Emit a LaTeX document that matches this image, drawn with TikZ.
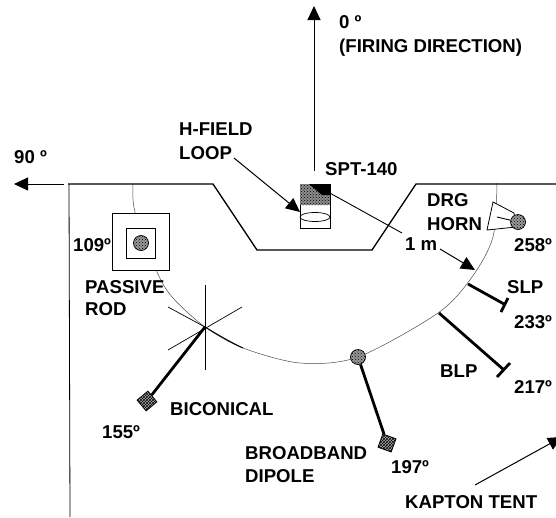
\documentclass[tikz,border=0pt]{standalone}
\usepackage{fontspec}
\setmainfont{Liberation Sans}
\usetikzlibrary{patterns,arrows.meta}
\tikzset{
 x=1pt,y=-1pt,
 lab/.style={inner sep=0pt,font=\fontsize{18.6}{21}\selectfont\bfseries,align=left,anchor=base west},
 wall/.style={line width=1.3pt,black},
 thick rod/.style={line width=2.8pt,black},
 thin/.style={line width=0.9pt,black},
 arr/.style={line width=1pt,-{Triangle[length=14pt,width=13pt]}},
 ball/.style={circle,draw,line width=0.7pt,preaction={fill=black!40},pattern=crosshatch dots,pattern color=black,minimum size=15pt,inner sep=0pt},
 sq/.style={rectangle,draw,line width=0.8pt,preaction={fill=black!30},pattern=crosshatch,pattern color=black,minimum size=14pt,inner sep=0pt},
}
\begin{document}
\begin{tikzpicture}
\useasboundingbox (0,0) rectangle (556,517);
\fill[white] (0,0) rectangle (556,517);
% arc
\draw[line width=0.5pt,black!70] plot[smooth] coordinates {(133,184) (135,212) (157,272) (173,298) (205,327) (243,348) (300,363) (358,357) (438,313) (472,277) (493,237) (497,183)};
\draw[line width=1pt] (205,327) .. controls (220,336) and (232,343) .. (243,348);
% walls
\draw[wall] (68,184) -- (213,184) -- (257,250) -- (372,250) -- (416,184) -- (556,184);
\draw[line width=0.8pt] (69,184) -- (70,517);
% direction arrows
\coordinate (top0) at (314,6);
\coordinate (base0) at (314,171);
\draw[arr] (base0) -- (top0);
\coordinate (left90) at (14,184);
\coordinate (base90) at (64,184);
\draw[arr] (base90) -- (left90);
% SPT
\node[draw,line width=0.8pt,minimum width=30pt,minimum height=44pt,inner sep=0pt] (spt) at (315,206) {};
\fill[black!45] (300,184) rectangle (330,205);
\fill[pattern=crosshatch dots,pattern color=black] (300,184) rectangle (330,205);
\fill[black] (309,184) -- (330,184) -- (330,195) -- (322,195) -- cycle;
\draw[line width=0.7pt] (315,217) ellipse [x radius=15,y radius=4.5];
% H-field arrow
\coordinate (hstart) at (234,158);
\coordinate (htip) at (300,212);
\draw[arr] (hstart) -- (htip);
% 1 m
\node[lab] (onem) at (405,250) {1 m};
\coordinate (m1) at (328,192);
\coordinate (m2) at (402,233);
\draw[thin] (m1) -- (m2);
\coordinate (m3) at (440,249);
\coordinate (m4) at (475,270);
\draw[arr] (m3) -- (m4);
% passive rod
\node[draw,line width=0.9pt,fill=white,minimum size=57pt,inner sep=0pt] (po) at (140.5,242) {};
\node[draw,line width=0.9pt,minimum width=29pt,minimum height=30pt,inner sep=0pt] (pi) at (140.5,243) {};
\node[ball] (pb) at (141,243) {};
% biconical
\coordinate (bc) at (205,327);
\draw[line width=0.7pt] (205,285) -- (205,370);
\draw[line width=0.7pt] (168,307) -- (bc);
\draw[line width=0.7pt] (242,307) -- (168,350);
\node[sq,rotate=40] (bs) at (147,401) {};
\draw[thick rod] (bc) -- (bs);
% dipole
\node[ball] (db) at (358,357) {};
\node[sq,rotate=-20] (ds) at (387,443) {};
\draw[thick rod] (db) -- (ds);
% SLP BLP
\coordinate (s1) at (468,284);
\coordinate (s2) at (504,304);
\coordinate (s3) at (508,298);
\coordinate (s4) at (501,312);
\draw[thick rod] (s1) -- (s2);
\draw[thick rod] (s3) -- (s4);
\coordinate (b1) at (439,313);
\coordinate (b2) at (504,370);
\coordinate (b3) at (510,363);
\coordinate (b4) at (497,377);
\draw[thick rod] (b1) -- (b2);
\draw[thick rod] (b3) -- (b4);
% horn
\draw[line width=0.8pt,fill=white] (493,202) -- (487,230) -- (516,227) -- (514,213) -- cycle;
\node[ball] (hb) at (518,222) {};
\coordinate (h1) at (497,217);
\draw[thin] (h1) -- (hb);
% kapton
\coordinate (k1) at (475,485);
\coordinate (k2) at (562,437);
\begin{scope}
\clip (0,0) rectangle (556,517);
\draw[arr] (k1) -- (k2);
\end{scope}
% labels
\node[lab] (l0) at (339,28) {0 º};
\node[lab] (lf) at (339,52) {(FIRING DIRECTION)};
\node[lab] (l90) at (14,163) {90 º};
\node[lab] (lh) at (179,135) {H-FIELD};
\node[lab] (ll) at (179,159) {LOOP};
\node[lab] (ls) at (325,175) {SPT-140};
\node[lab] (ld) at (427,206) {DRG};
\node[lab] (lho) at (427,230) {HORN};
\node[lab] (n258) at (514,251) {258º};
\node[lab] (n109) at (73,251) {109º};
\node[lab] (lp) at (85,293) {PASSIVE};
\node[lab] (lr) at (85,315) {ROD};
\node[lab] (lslp) at (507,293) {SLP};
\node[lab] (n233) at (514,328) {233º};
\node[lab] (lb) at (440,377) {BLP};
\node[lab] (n217) at (514,393) {217º};
\node[lab] (lbi) at (170,415) {BICONICAL};
\node[lab] (n155) at (102,438) {155º};
\node[lab] (lbr) at (245,459) {BROADBAND};
\node[lab] (ldi) at (245,482) {DIPOLE};
\node[lab] (n197) at (391,473) {197º};
\node[lab] (lk) at (405,508) {KAPTON TENT};
\end{tikzpicture}
\end{document}
